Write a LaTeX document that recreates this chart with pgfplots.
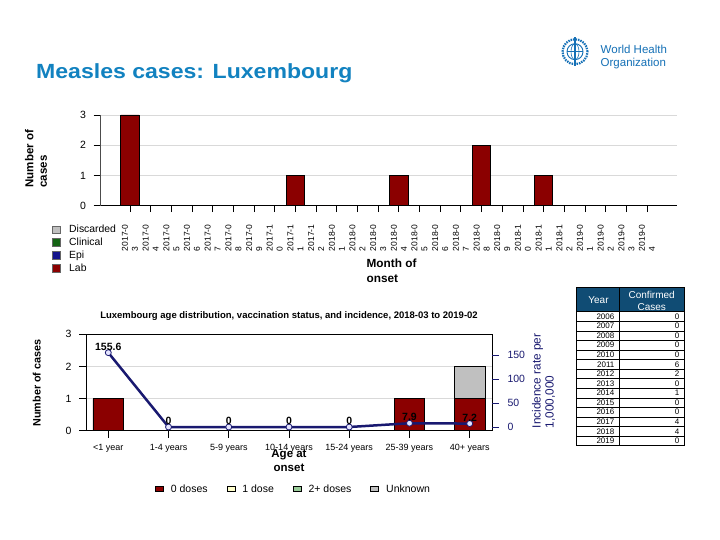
\documentclass[border=0pt]{standalone}
\usepackage{pgfplots}
\pgfplotsset{compat=1.18}
\usepackage{pgfplotstable}
\usepackage{fontspec}
\setmainfont{Liberation Sans}

\definecolor{titleblue}{RGB}{18,130,192}
\definecolor{whoblue}{RGB}{20,112,182}
\definecolor{labred}{RGB}{139,0,0}
\definecolor{epiblue}{RGB}{20,20,140}
\definecolor{clingreen}{RGB}{20,100,20}
\definecolor{discgray}{RGB}{192,192,192}
\definecolor{navy}{RGB}{25,25,112}
\definecolor{hdrblue}{RGB}{16,76,116}
\definecolor{doseone}{RGB}{255,255,204}
\definecolor{dosetwo}{RGB}{153,204,153}

\newcommand{\fsz}[2]{\fontsize{#1bp}{#2bp}\selectfont}

\pgfplotsset{
  /pgf/number format/assume math mode=true,
  sq/.style={legend image code/.code={\draw[##1] (0bp,-3.7bp) rectangle (7.5bp,3.7bp);}},
  flat/.style={legend image code/.code={\draw[##1] (0bp,-2.3bp) rectangle (8bp,2.3bp);}},
}

% cases by month of onset, 2017-03 .. 2019-04
\pgfplotstableread{
x cases
0 3
1 0
2 0
3 0
4 0
5 0
6 0
7 0
8 1
9 0
10 0
11 0
12 0
13 1
14 0
15 0
16 0
17 2
18 0
19 0
20 1
21 0
22 0
23 0
24 0
25 0
}\monthtab

% age groups: doses and incidence per 1,000,000
\pgfplotstableread{
x zero one two unk inc lab
0 1 0 0 0 155.6 155.6
1 0 0 0 0 0 0
2 0 0 0 0 0 0
3 0 0 0 0 0 0
4 0 0 0 0 0 0
5 1 0 0 0 7.9 7.9
6 1 0 0 1 7.2 7.2
}\agetab

\begin{document}
\begin{tikzpicture}[x=1bp,y=1bp]
\path[use as bounding box, fill=white] (0,0) rectangle (720,540);

% title
\node[anchor=west, text=titleblue, font=\bfseries\fsz{20.5}{24}, inner sep=0] at (36,467) {\scalebox{1.125}[1]{Measles cases: Luxembourg}};

% WHO logo
\begin{scope}[whoblue]
  \draw[line width=2.2bp, dash pattern=on 1.5bp off 1bp] (575,488.3) circle (12.5);
  \draw[line width=0.9bp] (575,488.3) circle (8);
  \draw[line width=0.6bp] (575,488.3) ellipse (4 and 8);
  \draw[line width=0.6bp] (567,488.3) -- (583,488.3);
  \draw[line width=1.4bp] (575,474) -- (575,503);
\end{scope}
\node[anchor=west, align=left, text=whoblue, font=\fsz{11.5}{12.7}, inner sep=0] at (600.5,483) {World Health\\Organization};

% ---------- monthly chart ----------
\begin{axis}[
  at={(100bp,334.3bp)}, anchor=south west,
  scale only axis, width=577bp, height=90.7bp,
  xmin=-1.45, xmax=26.45, ymin=0, ymax=3,
  axis x line=bottom, axis y line=left,
  x axis line style={-, black, line width=1.2bp},
  y axis line style={-, black!70, line width=0.6bp},
  ytick={0,1,2,3}, xtick={0,...,25},
  xticklabels={{2017-0\\3},{2017-0\\4},{2017-0\\5},{2017-0\\6},{2017-0\\7},{2017-0\\8},{2017-0\\9},{2017-1\\0},{2017-1\\1},{2017-1\\2},
    {2018-0\\1},{2018-0\\2},{2018-0\\3},{2018-0\\4},{2018-0\\5},{2018-0\\6},{2018-0\\7},{2018-0\\8},{2018-0\\9},{2018-1\\0},{2018-1\\1},{2018-1\\2},
    {2019-0\\1},{2019-0\\2},{2019-0\\3},{2019-0\\4}},
  tick align=outside, major tick length=6.5bp,
  tick style={black, line width=0.8bp},
  ymajorgrids, grid style={black!15, line width=0.8bp},
  yticklabel style={font=\fsz{10.5}{12}},
  yticklabel shift=4bp,
  xticklabel style={rotate=90, anchor=east, align=left, font=\fsz{8.5}{10}},
  xticklabel shift=9bp,
  ylabel={Number of\\cases},
  every axis y label/.style={at={(axis description cs:-0.111,0.162)}, anchor=west, rotate=90, align=left, font=\bfseries\fsz{11.5}{13.5}},
  xlabel={Month of\\onset},
  every axis x label/.style={at={(axis description cs:0.456,-0.55)}, anchor=north west, align=left, font=\bfseries\fsz{11.8}{15}},
  legend cell align=left,
  legend style={at={(axis description cs:-0.083,-0.2)}, anchor=north west, draw=none, fill=none, font=\fsz{10.4}{12},
    row sep=1.8bp, inner sep=0pt, nodes={inner sep=1bp},
    /tikz/every odd column/.append style={column sep=8bp}},
  ybar, bar width=0.885,
]
\addlegendimage{sq, fill=discgray, draw=black!60}
\addlegendentry{Discarded}
\addlegendimage{sq, fill=clingreen, draw=black!60}
\addlegendentry{Clinical}
\addlegendimage{sq, fill=epiblue, draw=black!60}
\addlegendentry{Epi}
\addlegendimage{sq, fill=labred, draw=black!60}
\addlegendentry{Lab}
\addplot[fill=labred, draw=black, line width=0.7bp] table[x=x,y=cases] {\monthtab};
\end{axis}

% ---------- age chart: bars ----------
\begin{axis}[
  at={(86bp,109.3bp)}, anchor=south west,
  scale only axis, width=406bp, height=96.4bp,
  xmin=-0.37, xmax=6.37, ymin=0, ymax=3,
  ybar stacked, bar width=0.51,
  xtick={0,...,6},
  xticklabels={<1 year, 1-4 years, 5-9 years, 10-14 years, 15-24 years, 25-39 years, 40+ years},
  ytick={0,1,2,3},
  axis line style={black, line width=1bp},
  tick align=outside, major tick length=7bp, tick style={black, line width=0.8bp},
  xtick pos=bottom, ytick pos=left,
  ymajorgrids, grid style={black!15, line width=0.8bp},
  xticklabel style={font=\fsz{9}{10}},
  xticklabel shift=3bp,
  yticklabel style={font=\fsz{10.5}{12}},
  yticklabel shift=4bp,
  title={Luxembourg age distribution, vaccination status, and incidence, 2018-03 to 2019-02},
  every axis title/.style={at={(axis description cs:0.5,1.193)}, anchor=center, font=\bfseries\fsz{9.5}{11}},
  ylabel={Number of cases},
  every axis y label/.style={at={(axis description cs:-0.121,0.495)}, anchor=center, rotate=90, font=\bfseries\fsz{10.8}{12}},
  xlabel={Age at\\onset},
  every axis x label/.style={at={(axis description cs:0.5,-0.155)}, anchor=north, align=center, font=\bfseries\fsz{11.5}{14}},
  legend columns=4,
  legend style={at={(axis description cs:0.51,-0.605)}, anchor=center, draw=none, fill=none, font=\fsz{10.5}{12},
    nodes={inner sep=1bp},
    /tikz/every odd column/.append style={column sep=6bp},
    /tikz/every even column/.append style={column sep=18bp}},
]
\addplot[flat, fill=labred, draw=black, line width=0.7bp] table[x=x,y=zero] {\agetab};
\addlegendentry{0 doses}
\addplot[flat, fill=doseone, draw=black, line width=0.7bp] table[x=x,y=one] {\agetab};
\addlegendentry{1 dose}
\addplot[flat, fill=dosetwo, draw=black, line width=0.7bp] table[x=x,y=two] {\agetab};
\addlegendentry{2+ doses}
\addplot[flat, fill=discgray, draw=black, line width=0.7bp] table[x=x,y=unk] {\agetab};
\addlegendentry{Unknown}
\end{axis}

% ---------- age chart: incidence ----------
\begin{axis}[
  at={(86bp,109.3bp)}, anchor=south west,
  scale only axis, width=406bp, height=96.4bp,
  xmin=-0.37, xmax=6.37, ymin=-7.7, ymax=194,
  axis x line=none, axis y line*=right,
  y axis line style={draw=none},
  ytick={0,50,100,150},
  tick align=outside, major tick length=7bp, ytick style={navy, line width=0.8bp},
  yticklabel style={font=\fsz{10.5}{12}, text=navy},
  yticklabel shift=5bp,
  ylabel={Incidence rate per\\1,000,000},
  every axis y label/.style={at={(axis description cs:1.127,-0.01)}, anchor=west, rotate=90, align=left, text=navy, font=\fsz{11.8}{13}},
  clip=false,
]
\addplot[navy, line width=2.5bp, mark=*, mark size=3bp,
  mark options={fill=blue!10, draw=navy, line width=0.8bp},
  nodes near coords, point meta=explicit symbolic,
  every node near coord/.append style={font=\bfseries\fsz{10.5}{11}, text=black, anchor=center, yshift=6bp}]
  table[x=x, y=inc, meta=lab] {\agetab};
\end{axis}

% ---------- yearly table ----------
\fill[hdrblue] (576,228.3) rectangle (684.3,252.7);
\draw[black, line width=0.6bp] (576,228.3) rectangle (684.3,252.7);
\draw[black, line width=0.6bp] (619.3,228.3) -- (619.3,252.7);
\node[text=white, font=\fsz{10}{12}] at (598.5,239.5) {Year};
\node[text=white, font=\fsz{10}{11.7}, align=center] at (651.7,239.3) {Confirmed\\Cases};
\foreach \yr/\cs [count=\i from 0] in {2006/0,2007/0,2008/0,2009/0,2010/0,2011/6,2012/2,2013/0,2014/1,2015/0,2016/0,2017/4,2018/4,2019/0} {
  \pgfmathsetmacro\yt{228.3-\i*9.57}
  \pgfmathsetmacro\yb{\yt-9.57}
  \pgfmathsetmacro\ym{\yt-4.8}
  \draw[black, line width=0.6bp] (576,\yb) rectangle (619.3,\yt);
  \draw[black, line width=0.6bp] (619.3,\yb) rectangle (684.3,\yt);
  \node[anchor=east, font=\fsz{8}{9}, inner sep=0] at (614.5,\ym) {\yr};
  \node[anchor=east, font=\fsz{8}{9}, inner sep=0] at (679.5,\ym) {\cs};
}
\end{tikzpicture}
\end{document}
